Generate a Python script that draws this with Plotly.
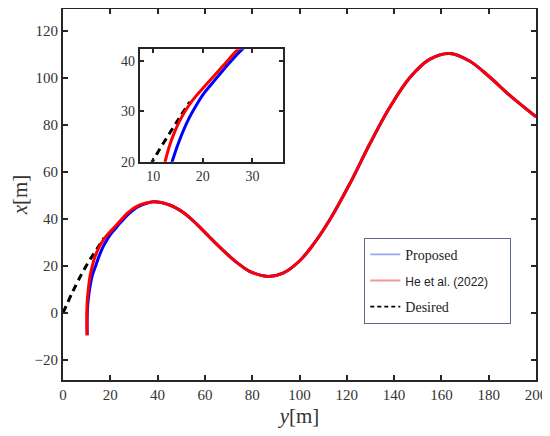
import plotly.graph_objects as go

# horizontal axis is labelled y, vertical axis is labelled x (as in the paper)
# He et al. (2022)
he_y = [10.2, 10.1, 10.1, 10.3, 10.8, 11.5, 12.4, 13.3, 14.4, 15.6, 17.0, 18.6, 20.5, 22.6,
        24.5, 26.4, 28.5, 31.0, 34.3, 38.3, 45.1, 50.7, 56.4, 62.0, 67.7, 73.3, 78.9,
        86.7, 93.0, 100.1, 105.7, 112.8, 121.2, 129.7, 138.1, 146.6, 155.0, 163.5,
        171.9, 180.4, 188.8, 200.0]
he_x = [-9.5, -4.0, 1.0, 6.0, 11.0, 16.0, 20.0, 23.2, 26.1, 28.6, 30.9, 33.0, 35.1, 37.4,
        39.5, 41.6, 43.5, 45.2, 46.5, 47.3, 45.9, 42.8, 37.9, 32.2, 26.6, 21.6, 17.7,
        15.5, 16.9, 22.2, 28.9, 39.6, 54.8, 71.8, 87.3, 100.0, 107.8, 110.3,
        107.1, 100.3, 92.6, 83.4]

# Proposed
prop_y = [10.2, 10.2, 10.3, 10.7, 11.4, 12.4, 13.8, 14.9, 16.0, 17.2, 18.5, 20.1, 22.0,
          24.3, 27.2, 30.0, 32.5, 35.0, 38.3, 45.1, 50.7, 56.4, 62.0, 67.7, 73.3, 78.9,
          86.7, 93.0, 100.1, 105.7, 112.8, 121.2, 129.7, 138.1, 146.6, 155.0, 163.5,
          171.9, 180.4, 188.8, 200.0]
prop_x = [-9.5, -4.0, 1.0, 6.0, 11.0, 16.0, 20.0, 23.2, 26.0, 28.6, 30.9, 33.4, 35.7,
          38.4, 41.6, 44.0, 45.5, 46.5, 47.3, 45.9, 42.8, 37.9, 32.2, 26.6, 21.6, 17.7,
          15.5, 16.9, 22.2, 28.9, 39.6, 54.8, 71.8, 87.3, 100.0, 107.8, 110.3,
          107.1, 100.3, 92.6, 83.4]

# Desired (runs into the trajectory, hidden under it afterwards)
des_y = [0.0, 4.0, 8.0, 10.7, 13.4, 15.4, 17.4]
des_x = [0.0, 8.8, 16.8, 21.5, 25.8, 28.9, 31.9]

main_xticks = [0, 20, 40, 60, 80, 100, 120, 140, 160, 180, 200]
main_yticks = [-20, 0, 20, 40, 60, 80, 100, 120]
inset_xticks = [10, 20, 30]
inset_yticks = [20, 30, 40]

serif = "Liberation Serif, Times New Roman, serif"
axcol = "#262626"

fig = go.Figure()

for xa, ya in [("x", "y"), ("x2", "y2")]:
    fig.add_trace(go.Scatter(x=des_y, y=des_x, mode="lines", xaxis=xa, yaxis=ya,
                             line=dict(color="black", width=3, dash="7px,5px",
                                       shape="spline", smoothing=1),
                             showlegend=False))
    fig.add_trace(go.Scatter(x=prop_y, y=prop_x, mode="lines", xaxis=xa, yaxis=ya,
                             line=dict(color="#0000ff", width=3, shape="spline", smoothing=1),
                             showlegend=False))
    fig.add_trace(go.Scatter(x=he_y, y=he_x, mode="lines", xaxis=xa, yaxis=ya,
                             line=dict(color="#ff0000", width=3, shape="spline", smoothing=1),
                             showlegend=False))

# legend entries (thin, pale samples like the original)
legend_items = [
    ("Proposed", "#9aa6f2", "solid", serif, 14),
    ("He et al. (2022)\u00a0\u00a0\u00a0\u00a0\u00a0", "#f29a9a", "solid",
     "Liberation Sans, Arial, sans-serif", 12),
    ("Desired", "black", "4px,3px", serif, 14),
]
for i, (name, col, dash, fam, size) in enumerate(legend_items):
    fig.add_trace(go.Scatter(
        x=[None], y=[None], mode="lines",
        name=f"<span style='font-family:{fam};font-size:{size}px'>{name}</span>",
        line=dict(color=col, width=1.8, dash=dash),
        legendgroup=f"g{i}",
    ))

axis_common = dict(showline=True, linecolor=axcol, linewidth=2, mirror="ticks",
                   ticks="inside", tickcolor=axcol, showgrid=False, zeroline=False,
                   automargin=False,
                   tickfont=dict(family=serif, size=15, color="#333333"))
inset_font = dict(family=serif, size=14, color="#333333")

# the page adds an 8px body margin, so the plot area is shifted up/left to compensate
fig.update_layout(
    width=550, height=436,
    margin=dict(l=55, r=22, t=1, b=64),
    paper_bgcolor="white", plot_bgcolor="white",
    xaxis=dict(range=[0, 200], tickvals=main_xticks, ticklen=5, tickwidth=1.5,
               title=dict(text="<i>y</i>[m]", font=dict(family=serif, size=21, color="#333333"),
                          standoff=6),
               **axis_common),
    yaxis=dict(range=[-28.5, 129.2], tickvals=main_yticks, ticklen=5, tickwidth=1.5,
               title=dict(text="<i>x</i>[m]", font=dict(family=serif, size=21, color="#333333"),
                          standoff=6),
               **axis_common),
    xaxis2=dict(domain=[0.1624, 0.4646], anchor="y2", range=[7.3, 36.1],
                tickvals=inset_xticks, ticklen=4, tickwidth=1.5,
                **{**axis_common, "tickfont": inset_font}),
    yaxis2=dict(domain=[0.5884, 0.8914], anchor="x2", range=[20, 42.3],
                tickvals=inset_yticks, ticklen=4, tickwidth=1.5,
                **{**axis_common, "tickfont": inset_font}),
    legend=dict(x=0.637, y=0.3836, xanchor="left", yanchor="top",
                bgcolor="white", bordercolor="#5b6b85", borderwidth=1,
                tracegroupgap=5, font=dict(family=serif, size=14, color="#222222")),
)

fig.write_html("out.html")
